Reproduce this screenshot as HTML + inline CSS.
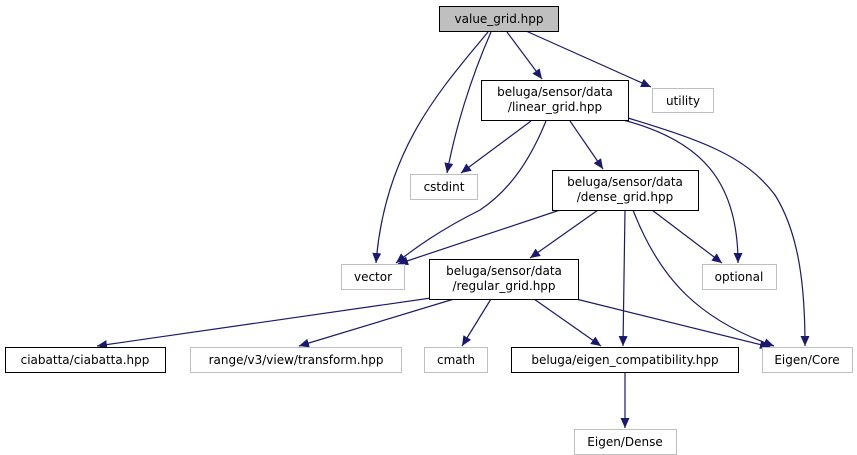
<!DOCTYPE html>
<html><head><style>
html,body{margin:0;padding:0;background:#fff;}
svg{display:block;font-family:"DejaVu Sans","Liberation Sans",sans-serif;}
</style></head><body>
<svg width="857" height="455" viewBox="0 0 857 455" xmlns="http://www.w3.org/2000/svg">
<defs>
<marker id="a" markerUnits="userSpaceOnUse" markerWidth="11" markerHeight="9" refX="10" refY="4.5" orient="auto">
<path d="M0,0 L10,4.5 L0,9 z" fill="#191970"/>
</marker>
</defs>
<g fill="none" stroke="#191970" stroke-width="1.2" marker-end="url(#a)">
<path d="M488,32 C440,90 385,150 376,263"/>
<path d="M491,32 C470,80 455,130 447,173"/>
<path d="M507,32 L542,79"/>
<path d="M526,31 L651,87"/>
<path d="M531,121 L461,173"/>
<path d="M546,121 C530,160 510,190 480,210 C440,230 415,248 396,263"/>
<path d="M570,121 L603,169"/>
<path d="M623,120 C700,140 738,180 738,263"/>
<path d="M628,118 C700,140 745,155 775,195 C800,235 805,290 805,346"/>
<path d="M560,210 L398,264"/>
<path d="M598,210 L530,258"/>
<path d="M652,210 L722,263"/>
<path d="M625,210 L623,346"/>
<path d="M633,210 C660,280 700,320 774,346"/>
<path d="M431,298 L97,346"/>
<path d="M454,299 L299,346"/>
<path d="M491,299 L462,346"/>
<path d="M534,299 L601,346"/>
<path d="M576,299 L770,347"/>
<path d="M625,372 L625,428"/>
</g>
<g font-size="12" text-anchor="middle" fill="#000">
<rect x="439.5" y="6.5" width="119" height="25" fill="#bfbfbf" stroke="#000"/>
<text x="499" y="23">value_grid.hpp</text>
<rect x="481.5" y="80.5" width="147" height="40" fill="#fff" stroke="#000"/>
<text x="555" y="96">beluga/sensor/data</text>
<text x="555" y="111">/linear_grid.hpp</text>
<rect x="652.5" y="88.5" width="61" height="24" fill="#fff" stroke="#bfbfbf"/>
<text x="683" y="105">utility</text>
<rect x="410.5" y="174.5" width="67" height="25" fill="#fff" stroke="#bfbfbf"/>
<text x="444" y="191">cstdint</text>
<rect x="552.5" y="170.5" width="146" height="40" fill="#fff" stroke="#000"/>
<text x="625" y="186">beluga/sensor/data</text>
<text x="625" y="201">/dense_grid.hpp</text>
<rect x="341.5" y="264.5" width="63" height="25" fill="#fff" stroke="#bfbfbf"/>
<text x="373" y="281">vector</text>
<rect x="429.5" y="259.5" width="149" height="40" fill="#fff" stroke="#000"/>
<text x="504" y="275">beluga/sensor/data</text>
<text x="504" y="290">/regular_grid.hpp</text>
<rect x="702.5" y="264.5" width="74" height="25" fill="#fff" stroke="#bfbfbf"/>
<text x="739" y="281">optional</text>
<rect x="5.5" y="347.5" width="160" height="25" fill="#fff" stroke="#000"/>
<text x="85" y="364">ciabatta/ciabatta.hpp</text>
<rect x="190.5" y="347.5" width="211" height="25" fill="#fff" stroke="#bfbfbf"/>
<text x="296" y="364">range/v3/view/transform.hpp</text>
<rect x="424.5" y="347.5" width="63" height="25" fill="#fff" stroke="#bfbfbf"/>
<text x="456" y="364">cmath</text>
<rect x="511.5" y="347.5" width="227" height="25" fill="#fff" stroke="#000"/>
<text x="625" y="364">beluga/eigen_compatibility.hpp</text>
<rect x="762.5" y="347.5" width="90" height="25" fill="#fff" stroke="#bfbfbf"/>
<text x="807" y="364">Eigen/Core</text>
<rect x="574.5" y="429.5" width="102" height="25" fill="#fff" stroke="#bfbfbf"/>
<text x="625" y="446">Eigen/Dense</text>
</g>
</svg>
</body></html>
